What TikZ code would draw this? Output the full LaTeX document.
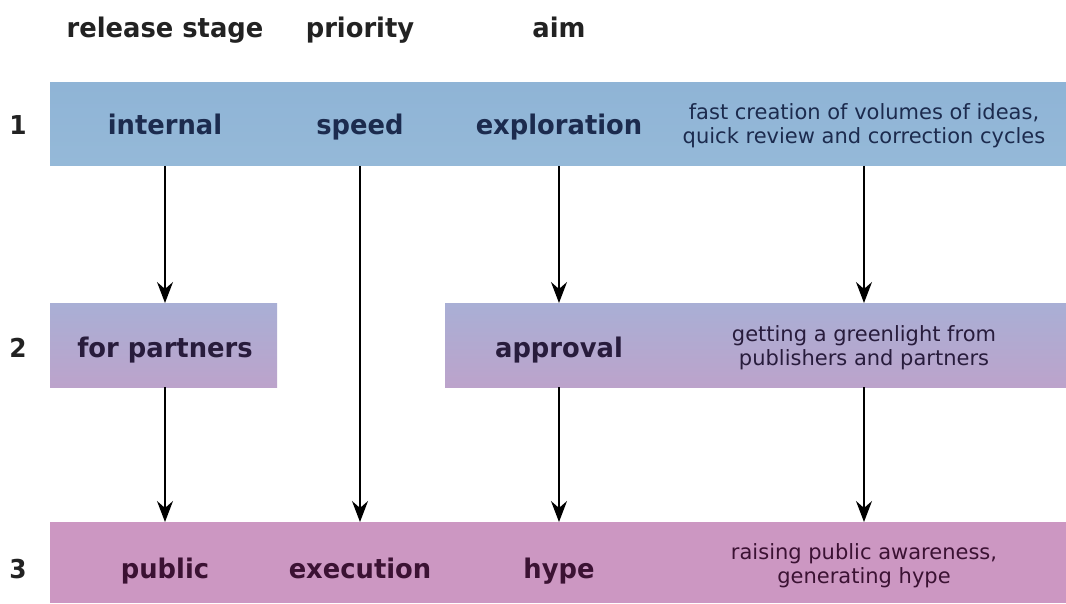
\documentclass[tikz,border=0pt]{standalone}
\usepackage{fontspec}
\setmainfont{DejaVu Sans}
\newfontfamily\lblfont[FakeStretch=0.955]{DejaVu Sans}
\usetikzlibrary{arrows.meta}
\definecolor{rowone}{HTML}{95B9D8}
\definecolor{rowonetop}{HTML}{8FB4D6}
\definecolor{rowtwotop}{HTML}{A9AFD5}
\definecolor{rowtwobot}{HTML}{BCA3CB}
\definecolor{rowthree}{HTML}{CC97C2}
\definecolor{txtone}{HTML}{1C2B4E}
\definecolor{txttwo}{HTML}{281C3C}
\definecolor{txtthree}{HTML}{3B1233}
\definecolor{hdr}{HTML}{222222}
\tikzset{
  band/.style={draw=none, inner sep=0pt, outer sep=0pt, anchor=center},
  lbl/.style={font=\lblfont\fontsize{27}{32}\selectfont\bfseries, inner sep=0pt, anchor=base},
  desc/.style={font=\fontsize{21}{24}\selectfont, inner sep=0pt, align=center, anchor=center},
  num/.style={font=\lblfont\fontsize{26}{30}\selectfont\bfseries, text=hdr, inner sep=0pt, anchor=base},
  flow/.style={draw=black, line width=1.3pt, -{Stealth[length=21pt,width=16pt,inset=7pt]}},
}
\begin{document}
\begin{tikzpicture}[x=1pt,y=-1pt]
\useasboundingbox[fill=white] (0,0) rectangle (1066,604);
% bands
\node[band, minimum width=1016pt, minimum height=83pt, top color=rowonetop, bottom color=rowone] (r1) at (558,124.5) {};
\node[band, minimum width=227pt, minimum height=84pt, top color=rowtwotop, bottom color=rowtwobot] (r2l) at (163.5,345) {};
\node[band, minimum width=621pt, minimum height=84pt, top color=rowtwotop, bottom color=rowtwobot] (r2r) at (755.5,345) {};
\node[band, minimum width=1016pt, minimum height=81pt, fill=rowthree] (r3) at (558,562.5) {};
% headers
\node[lbl, text=hdr] (h1) at (165,38) {release stage};
\node[lbl, text=hdr] (h2) at (360,38) {priority};
\node[lbl, text=hdr] (h3) at (559,38) {aim};
% numbers
\node[num] (n1) at (18,135) {1};
\node[num] (n2) at (18,357) {2};
\node[num] (n3) at (18,578) {3};
% row 1
\node[lbl, text=txtone] (internal) at (165,135) {internal};
\node[lbl, text=txtone] (speed) at (360,135) {speed};
\node[lbl, text=txtone] (exploration) at (559,135) {exploration};
\node[desc, text=txtone] (d1) at (864,126) {fast creation of volumes of ideas,\\quick review and correction cycles};
% row 2
\node[lbl, text=txttwo] (partners) at (165,357) {for partners};
\node[lbl, text=txttwo] (approval) at (559,357) {approval};
\node[desc, text=txttwo] (d2) at (864,348) {getting a greenlight from\\publishers and partners};
% row 3
\node[lbl, text=txtthree] (public) at (165,578) {public};
\node[lbl, text=txtthree] (execution) at (360,578) {execution};
\node[lbl, text=txtthree] (hype) at (559,578) {hype};
\node[desc, text=txtthree] (d3) at (864,566) {raising public awareness,\\generating hype};
% arrows
\draw[flow] (internal |- r1.south) -- (partners |- r2l.north);
\draw[flow] (partners |- r2l.south) -- (public |- r3.north);
\draw[flow] (speed |- r1.south) -- (execution |- r3.north);
\draw[flow] (exploration |- r1.south) -- (approval |- r2r.north);
\draw[flow] (approval |- r2r.south) -- (hype |- r3.north);
\draw[flow] (d1 |- r1.south) -- (d2 |- r2r.north);
\draw[flow] (d2 |- r2r.south) -- (d3 |- r3.north);
\end{tikzpicture}
\end{document}
